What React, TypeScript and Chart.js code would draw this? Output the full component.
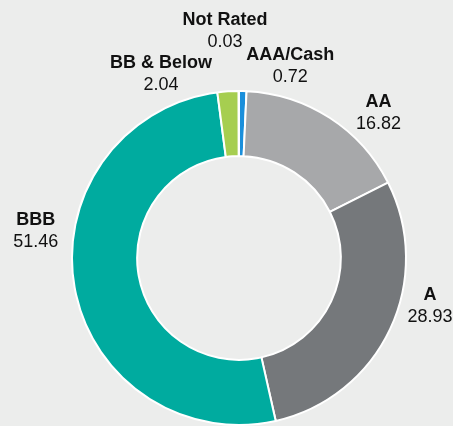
import { useEffect, useRef } from "react"
import { Chart, registerables } from "chart.js"
import type { Plugin } from "chart.js"

Chart.register(...registerables)

// Credit quality breakdown (%), clockwise from 12 o'clock
const ratings = ["AAA/Cash", "AA", "A", "BBB", "BB & Below", "Not Rated"]
const weights = [0.72, 16.82, 28.93, 51.46, 2.04, 0.03]
const valueLabels = ["0.72", "16.82", "28.93", "51.46", "2.04", "0.03"]
const sliceColors = ["#1a8fdb", "#a7a8aa", "#75787b", "#00ab9f", "#a6ce50", "#3d4f5c"]

// label placement: angle shift (deg) from slice middle, distance from centre (px)
const labelShift = [13.6, 11.1, -11.1, 17.6, -19.2, -3.5]
const labelDist = [199, 201, 197, 205, 200, 227]

const BG = "#ecedec"
const FONT = "'Liberation Sans', Arial, sans-serif"

const outsideLabels: Plugin<"doughnut"> = {
  id: "outsideLabels",
  afterDraw(chart) {
    const { ctx } = chart
    const meta = chart.getDatasetMeta(0)
    ctx.save()
    ctx.textAlign = "center"
    ctx.textBaseline = "middle"
    ctx.fillStyle = "#111"
    meta.data.forEach((el, i) => {
      const { x, y, startAngle, endAngle } = (el as any).getProps(
        ["x", "y", "startAngle", "endAngle"],
        true
      )
      const a = (startAngle + endAngle) / 2 + (labelShift[i] * Math.PI) / 180
      const lx = x + labelDist[i] * Math.cos(a)
      const ly = y + labelDist[i] * Math.sin(a)
      ctx.font = `bold 18px ${FONT}`
      ctx.fillText(ratings[i], lx, ly - 11)
      ctx.font = `18px ${FONT}`
      ctx.fillText(valueLabels[i], lx, ly + 11)
    })
    ctx.restore()
  },
}

export default function App() {
  const canvasRef = useRef<HTMLCanvasElement>(null)

  useEffect(() => {
    if (!canvasRef.current) return
    const ctx = canvasRef.current.getContext("2d")
    if (!ctx) return

    const chart = new Chart(ctx, {
      type: "doughnut",
      data: {
        labels: ratings,
        datasets: [
          {
            data: weights,
            backgroundColor: sliceColors,
            borderColor: "#ffffff",
            borderWidth: 2,
          },
        ],
      },
      options: {
        responsive: false,
        animation: false,
        cutout: "61%",
        layout: {
          padding: { left: 70, right: 45, top: 90, bottom: 0 },
        },
        plugins: {
          legend: { display: false },
          tooltip: { enabled: false },
        },
      },
      plugins: [outsideLabels],
    })

    return () => chart.destroy()
  }, [])

  return (
    <div
      style={{
        position: "fixed",
        left: 0,
        top: 0,
        width: 453,
        height: 426,
        background: BG,
      }}
    >
      <canvas ref={canvasRef} width={453} height={426} style={{ display: "block" }} />
    </div>
  )
}
